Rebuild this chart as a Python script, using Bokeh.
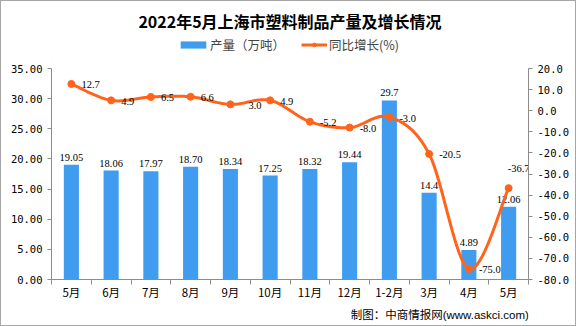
import numpy as np
from bokeh.plotting import figure
from bokeh.layouts import column
from bokeh.models import (Range1d, LinearAxis, FixedTicker, PrintfTickFormatter,
                          Label, Legend, LegendItem)
from bokeh.embed import file_html
from bokeh.resources import INLINE

# ---------------- data ----------------
months = ["5月", "6月", "7月", "8月", "9月", "10月", "11月", "12月", "1-2月", "3月", "4月", "5月"]
output = [19.05, 18.06, 17.97, 18.70, 18.34, 17.25, 18.32, 19.44, 29.7, 14.4, 4.89, 12.06]
output_labels = ["19.05", "18.06", "17.97", "18.70", "18.34", "17.25", "18.32", "19.44",
                 "29.7", "14.4", "4.89", "12.06"]
growth = [12.7, 4.9, 6.5, 6.6, 3.0, 4.9, -5.2, -8.0, -3.0, -20.5, -75.0, -36.7]
growth_labels = ["12.7", "4.9", "6.5", "6.6", "3.0", "4.9", "-5.2", "-8.0", "-3.0",
                 "-20.5", "-75.0", "-36.7"]
left_ticks = [0, 5, 10, 15, 20, 25, 30, 35]
right_ticks = [-80, -70, -60, -50, -40, -30, -20, -10, 0, 10, 20]

title_text = "2022年5月上海市塑料制品产量及增长情况"
legend_bar = "产量（万吨）"
legend_line = "同比增长(%)"
source_text = "制图：中商情报网(www.askci.com)"

BLUE = "#3F9CEF"
ORANGE = "#FF631C"
AXIS = "#8C8C8C"
NUM_FONT = "DejaVu Sans Mono"
CJK = "Noto Sans CJK SC"
W = 574

n = len(months)
xs = np.arange(1, n + 1, dtype=float)

# smooth curve (Excel-like Catmull-Rom smoothing) through the growth points
gy = np.array(growth, dtype=float)
px = np.concatenate([[xs[0]], xs, [xs[-1]]])
py = np.concatenate([[gy[0]], gy, [gy[-1]]])
cx, cy = [], []
t = np.linspace(0, 1, 40)
for i in range(n - 1):
    p0 = np.array([xs[i], gy[i]])
    p1 = np.array([xs[i + 1], gy[i + 1]])
    pm = np.array([px[i], py[i]])
    pp = np.array([px[i + 3], py[i + 3]])
    c1 = p0 + (p1 - pm) / 6.0
    c2 = p1 - (pp - p0) / 6.0
    b = ((1 - t) ** 3)[:, None] * p0 + (3 * (1 - t) ** 2 * t)[:, None] * c1 + \
        (3 * (1 - t) * t ** 2)[:, None] * c2 + (t ** 3)[:, None] * p1
    cx.extend(b[:, 0]); cy.extend(b[:, 1])


def blank(h):
    f = figure(width=W, height=h, x_range=Range1d(0, W), y_range=Range1d(0, h),
               x_axis_type=None, y_axis_type=None, output_backend="svg",
               toolbar_location=None, min_border=0, min_border_left=0, min_border_right=0,
               min_border_top=0, min_border_bottom=0)
    f.outline_line_color = None
    f.xgrid.visible = False
    f.ygrid.visible = False
    return f


# ---------------- header: title + legend ----------------
H_HEAD = 61
head = blank(H_HEAD)
head.add_layout(Label(x=287, y=H_HEAD - 19, text=title_text, text_align="center",
                      text_baseline="middle", text_font=CJK, text_font_style="bold",
                      text_font_size="16px", text_color="black"))
# legend proxies (off-screen, only used for the legend swatches)
lb = head.vbar(x=[-100], top=[1], width=1, fill_color=BLUE, line_color=None)
ll = head.line(x=[-100, -99], y=[1, 1], line_color=ORANGE, line_width=3)
lp = head.scatter(x=[-100], y=[1], size=7, fill_color=ORANGE, line_color=ORANGE)
common = dict(orientation="horizontal", label_height=14, padding=0, margin=0,
              border_line_color=None, background_fill_alpha=0,
              label_text_font=CJK, label_text_font_size="12.5px")
leg1 = Legend(items=[LegendItem(label=legend_bar, renderers=[lb])], location=(126, 8),
              glyph_width=32, glyph_height=9, label_standoff=1, **common)
leg2 = Legend(items=[LegendItem(label=legend_line, renderers=[ll, lp])], location=(250, 8),
              glyph_width=26, glyph_height=9, label_standoff=2, **common)
head.add_layout(leg1)
head.add_layout(leg2)

# ---------------- main chart ----------------
p = figure(width=W, height=244, x_range=Range1d(0.5, n + 0.5), y_range=Range1d(0, 35),
           output_backend="svg", toolbar_location=None,
           min_border_left=50, min_border_right=47, min_border_top=6, min_border_bottom=27)
p.title_location = None
p.outline_line_color = None
p.xgrid.visible = False
p.ygrid.visible = False

p.extra_y_ranges = {"g": Range1d(-80, 20)}

xa = p.xaxis[0]
xa.ticker = FixedTicker(ticks=list(xs), minor_ticks=list(np.arange(0.5, n + 1, 1.0)))
xa.major_label_overrides = {int(x): m for x, m in zip(xs, months)}
xa.major_tick_out = 0
xa.major_tick_in = 0
xa.minor_tick_out = 5
xa.minor_tick_in = 0
xa.axis_line_color = AXIS
xa.minor_tick_line_color = AXIS
xa.major_label_standoff = -1
xa.major_label_text_font = CJK
xa.major_label_text_font_size = "11.5px"
xa.major_label_text_color = "black"

ya = p.yaxis[0]
ya.ticker = FixedTicker(ticks=left_ticks)
ya.formatter = PrintfTickFormatter(format="%.2f")
ya.major_tick_out = 4
ya.major_tick_in = 0
ya.minor_tick_out = 0
ya.minor_tick_in = 0
ya.axis_line_color = AXIS
ya.major_tick_line_color = AXIS
ya.major_label_standoff = 5
ya.major_label_text_font = NUM_FONT
ya.major_label_text_font_size = "10.5px"
ya.major_label_text_color = "black"

ra = LinearAxis(y_range_name="g", ticker=FixedTicker(ticks=right_ticks),
                formatter=PrintfTickFormatter(format="%.1f"))
ra.major_tick_out = 4
ra.major_tick_in = 0
ra.minor_tick_out = 0
ra.minor_tick_in = 0
ra.axis_line_color = AXIS
ra.major_tick_line_color = AXIS
ra.major_label_standoff = 5
ra.major_label_text_font = NUM_FONT
ra.major_label_text_font_size = "10.5px"
ra.major_label_text_color = "black"
p.add_layout(ra, "right")

# bars
p.vbar(x=xs, top=output, width=0.38, fill_color=BLUE, line_color=None)
p.text(x=xs, y=output, text=output_labels, y_offset=-4, text_align="center",
       text_baseline="bottom", text_font=NUM_FONT, text_font_size="10.5px", text_color="black")

# line
p.line(cx, cy, y_range_name="g", line_color=ORANGE, line_width=3)
p.scatter(xs, growth, y_range_name="g", size=7, fill_color=ORANGE, line_color=ORANGE)

# growth labels (to the right of the point; the last one above)
idx_right = [i for i in range(n) if i != n - 1]
dx = [18 if i == 4 else 10 for i in idx_right]
p.text(x=[xs[i] for i in idx_right], y=[growth[i] for i in idx_right],
       text=[growth_labels[i] for i in idx_right], x_offset=dx, y_offset=1,
       y_range_name="g", text_align="left", text_baseline="middle",
       text_font=NUM_FONT, text_font_size="10.5px", text_color="black")
p.text(x=[xs[n - 1]], y=[growth[n - 1]], text=[growth_labels[n - 1]], x_offset=10, y_offset=-16,
       y_range_name="g", text_align="center", text_baseline="bottom",
       text_font=NUM_FONT, text_font_size="10.5px", text_color="black")

# ---------------- footer: source ----------------
H_FOOT = 19
foot = blank(H_FOOT)
foot.add_layout(Label(x=360, y=H_FOOT - 8, text=source_text, text_align="left",
                      text_baseline="middle", text_font="Liberation Sans, Noto Sans CJK SC",
                      text_font_size="11.5px", text_color="black"))

layout = column(head, p, foot, spacing=0)
layout.styles = {"border": "1px solid #A6A6A6"}

open("out.html", "w").write(file_html(layout, INLINE))
